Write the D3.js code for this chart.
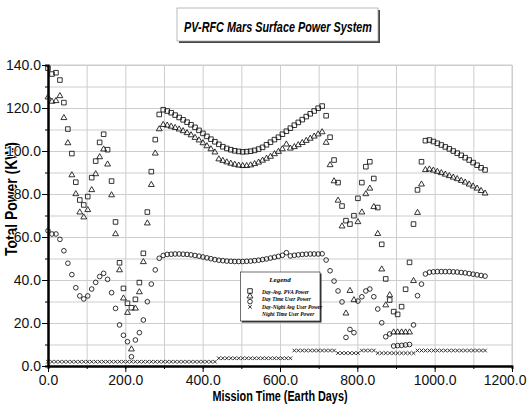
<!DOCTYPE html>
<html lang="en">
<head>
  <meta charset="utf-8">
  <style>
    body { margin: 0; padding: 0; background: #fff; }
    svg { display: block; }
    .grid line { stroke: #cdcdcd; stroke-width: 1; }
    .grid .domain { display: none; }
    .axis .domain { stroke: #000; stroke-width: 2; }
    .axis line { stroke: #000; }
    .axis text { font-family: "Liberation Sans Narrow", "Arial Narrow", "Liberation Sans", Arial, sans-serif; font-size: 14px; fill: #111; }
    .mk { fill: none; stroke: #111; stroke-width: 0.85; }
  </style>
</head>
<body>
<svg width="527" height="404"></svg>
<script src="https://cdn.jsdelivr.net/npm/d3@7/dist/d3.min.js"></script>
<script>
// mission days (one sample every 10 sols)
var days = [0, 10.3, 20.6, 30.8, 41.1, 51.4, 61.7, 71.9, 82.2, 92.5,
  102.8, 113, 123.3, 133.6, 143.9, 154.1, 164.4, 174.7, 185, 195.2,
  205.5, 215.8, 226.1, 236.3, 246.6, 256.9, 267.2, 277.4, 287.7, 298,
  308.3, 318.5, 328.8, 339.1, 349.4, 359.6, 369.9, 380.2, 390.5, 400.7,
  411, 421.3, 431.6, 441.8, 452.1, 462.4, 472.7, 482.9, 493.2, 503.5,
  513.8, 524, 534.3, 544.6, 554.9, 565.1, 575.4, 585.7, 596, 606.2,
  616.5, 626.8, 637.1, 647.3, 657.6, 667.9, 678.2, 688.4, 698.7, 709,
  719.3, 729.5, 739.8, 750.1, 760.4, 770.6, 780.9, 791.2, 801.5, 811.7,
  822, 832.3, 842.6, 852.8, 863.1, 873.4, 883.7, 893.9, 904.2, 914.5,
  924.8, 935, 945.3, 955.6, 965.9, 976.1, 986.4, 996.7, 1007, 1017.2,
  1027.5, 1037.8, 1048.1, 1058.3, 1068.6, 1078.9, 1089.2, 1099.4, 1109.7, 1120,
  1130.3];

var pvaPower = [138.5, 135.8, 136.4, 133, 122.5, 110.2, 98.8, 85.5, 77.2, 74.9,
  78.8, 87.6, 95.3, 104, 107.8, 100.6, 86, 67, 48, 36.1,
  29.2, 27.1, 31, 38.8, 52.4, 71.6, 90.4, 105.3, 117, 119.2,
  118.6, 117.8, 116.7, 115.6, 114.5, 113.4, 112.2, 111, 109.6, 108.2,
  106.8, 105.5, 104.3, 103.1, 102, 101.2, 100.6, 100.1, 99.8, 99.6,
  99.7, 99.9, 100.3, 100.9, 101.7, 102.9, 104.1, 105.3, 106.4, 107.8,
  109.2, 110.6, 112, 113.3, 114.6, 116, 117.3, 118.6, 119.9, 120.9,
  116.4, 106.4, 95.8, 85.3, 74.4, 67.6, 66, 69.9, 78, 85.3,
  92.7, 95, 87.2, 73.7, 56.6, 40.5, 30.7, 25.3, 24, 27.6,
  35.7, 48.2, 66, 81.9, 95, 104.8, 105.1, 104.4, 103.6, 102.8,
  101.9, 101, 100, 99, 98, 96.9, 95.8, 94.6, 93.4, 92.2,
  91.2];

var dayUserPower = [125, 123, 123.3, 125.6, 115.4, 103.7, 88.8, 80, 71.5, 69.2,
  72.6, 81.9, 89.3, 97.2, 100.8, 93.8, 79.5, 61.4, 44.6, 31.5,
  24.8, 7.8, 26.8, 34.4, 48.4, 66.4, 84.3, 98.9, 110.2, 112.2,
  111.9, 111.4, 110.8, 110.1, 109.3, 108.4, 107.4, 106.2, 105, 103.7,
  102.3, 100.9, 99.4, 96.2, 95.5, 94.8, 94.2, 93.7, 93.3, 93.1,
  93.1, 93.4, 94, 94.7, 95.6, 96.5, 97.4, 98.6, 99.7, 100.9,
  103.1, 101.2, 101.9, 102.8, 103.8, 104.8, 105.8, 106.8, 107.8, 108.8,
  103.9, 93.5, 86, 77, 65, 24.5, 35, 30.7, 67, 71.5,
  80, 82.6, 74, 61.5, 45, 28.3, 33, 15.7, 15.7, 15.7,
  15.7, 15.7, 39.6, 71.3, 84.5, 91.2, 91.5, 91, 90.4, 89.8,
  89.1, 88.4, 87.7, 87, 86.2, 85.4, 84.5, 83.6, 82.6, 81.5,
  80.3];

var avgUserPower = [62.9, 61.4, 61.4, 58.9, 53.6, 47.8, 42.5, 36.4, 32.6, 31.2,
  32.6, 35.8, 38.9, 41.6, 43.1, 40.3, 34.1, 26.8, 19.1, 14.3,
  11.3, 4.3, 12.1, 15.5, 21.4, 29.9, 38.1, 44.7, 50.1, 51.4,
  51.9, 52, 52.1, 52.1, 52, 51.9, 51.7, 51.4, 51.1, 50.7,
  50.3, 49.9, 49.5, 49.2, 49, 48.8, 48.7, 48.6, 48.6, 48.6,
  48.7, 48.8, 49, 49.2, 49.5, 49.8, 50.2, 50.6, 51, 51.5,
  52.7, 51.2, 51.5, 51.7, 51.9, 52, 52.1, 52.1, 52.1, 52.2,
  49.3, 44.3, 39.5, 34.9, 29.8, 13.3, 17, 15.5, 30.2, 32.2,
  34.9, 35.8, 32.2, 26.5, 20.1, 13.6, 14.9, 9.3, 9.5, 9.6,
  9.8, 10, 19.1, 32.7, 38.1, 42.8, 43.6, 43.8, 43.9, 43.9,
  43.9, 43.9, 43.8, 43.7, 43.5, 43.3, 43, 42.7, 42.4, 42.1,
  41.8];

var nightUserPower = [2, 2, 2, 2, 2, 2, 2, 2, 2, 2,
  2, 2, 2, 2, 2, 2, 2, 2, 2, 2,
  2, 2, 2, 2, 2, 2, 2, 2, 2, 2,
  2, 2, 2, 2, 2, 2, 2, 2, 2, 2,
  2, 2, 2, 3.6, 3.6, 3.6, 3.6, 3.6, 3.6, 3.6,
  3.6, 3.6, 3.6, 3.6, 3.6, 3.6, 3.6, 3.6, 3.6, 3.6,
  3.6, 3.6, 7.2, 7.2, 7.2, 7.2, 7.2, 7.2, 7.2, 7.2,
  7.2, 7.2, 7.2, 6, 6, 6, 6, 6, 6, 7.2,
  7.2, 7.2, 7.2, 6, 6, 6, 6, 6, 6, 6,
  6, 6, 6, 7.2, 7.2, 7.2, 7.2, 7.2, 7.2, 7.2,
  7.2, 7.2, 7.2, 7.2, 7.2, 7.2, 7.2, 7.2, 7.2, 7.2,
  7.2];

var seriesNames = ["Day-Avg. PVA Power", "Day Time User Power", "Day-Night Avg User Power", "Night Time User Power"];
var xTicks = [0, 200, 400, 600, 800, 1000, 1200];
var yTicks = [0, 20, 40, 60, 80, 100, 120, 140];

var svg = d3.select("svg");

var x = d3.scaleLinear().domain([0, 1200]).range([48, 512]);
var y = d3.scaleLinear().domain([0, 140]).range([366, 65]);

// title box
svg.append("rect").attr("x", 179).attr("y", 10).attr("width", 201).attr("height", 33).attr("fill", "#444");
svg.append("rect").attr("x", 177).attr("y", 8).attr("width", 201).attr("height", 33)
  .attr("fill", "#fff").attr("stroke", "#aaa").attr("stroke-width", 0.8);
svg.append("text")
  .attr("x", 278).attr("y", 32)
  .attr("text-anchor", "middle")
  .attr("textLength", 188).attr("lengthAdjust", "spacingAndGlyphs")
  .style("font-family", "'Liberation Sans Narrow', 'Liberation Sans', Arial, sans-serif")
  .style("font-size", "15px").style("font-weight", "bold").style("font-style", "italic")
  .text("PV-RFC Mars Surface Power System");

// y title goes under the tick labels
svg.append("text")
  .attr("transform", "translate(17,199) rotate(-90)")
  .attr("text-anchor", "middle")
  .attr("textLength", 114).attr("lengthAdjust", "spacingAndGlyphs")
  .style("font-family", "'Liberation Sans Narrow', 'Liberation Sans', Arial, sans-serif")
  .style("font-size", "17px").style("font-weight", "bold")
  .text("Total Power (KW)");

// grid
svg.append("g").attr("class", "grid")
  .attr("transform", "translate(0,366)")
  .call(d3.axisBottom(x).ticks(12).tickSize(-301).tickFormat(""));
svg.append("g").attr("class", "grid")
  .attr("transform", "translate(48,0)")
  .call(d3.axisLeft(y).ticks(14).tickSize(-464).tickFormat(""));
svg.append("line").attr("x1", 48).attr("x2", 512).attr("y1", 65).attr("y2", 65).attr("stroke", "#cdcdcd");
svg.append("line").attr("x1", 512).attr("x2", 512).attr("y1", 65).attr("y2", 366).attr("stroke", "#cdcdcd");

// minor ticks
svg.append("g").attr("class", "axis")
  .attr("transform", "translate(48,0)")
  .call(d3.axisLeft(y).ticks(14).tickSize(3).tickFormat(""));
svg.append("g").attr("class", "axis")
  .attr("transform", "translate(0,366)")
  .call(d3.axisBottom(x).ticks(12).tickSize(3).tickFormat(""));

// axes
var yAxis = svg.append("g").attr("class", "axis")
  .attr("transform", "translate(48,0)")
  .call(d3.axisLeft(y).tickValues(yTicks).tickSize(6).tickSizeOuter(0).tickPadding(1).tickFormat(d3.format(".1f")));
yAxis.selectAll("text").style("paint-order", "stroke").style("stroke", "#fff").style("stroke-width", 2);
var xAxis = svg.append("g").attr("class", "axis")
  .attr("transform", "translate(0,366)")
  .call(d3.axisBottom(x).tickValues(xTicks).tickSize(6).tickSizeOuter(0).tickPadding(3).tickFormat(d3.format(".1f")));
// last label sits at the right edge of the picture
xAxis.selectAll(".tick text")
  .filter(function(d) { return d === 1200; })
  .attr("text-anchor", "end")
  .attr("x", 14);

svg.append("text")
  .attr("x", 280).attr("y", 401)
  .attr("text-anchor", "middle")
  .attr("textLength", 135).attr("lengthAdjust", "spacingAndGlyphs")
  .style("font-family", "'Liberation Sans Narrow', 'Liberation Sans', Arial, sans-serif")
  .style("font-size", "14px").style("font-weight", "bold")
  .text("Mission Time (Earth Days)");

// markers
var symbols = [
  d3.symbol().type(d3.symbolSquare).size(21),
  d3.symbol().type(d3.symbolTriangle).size(15),
  d3.symbol().type(d3.symbolCircle).size(17),
  d3.symbol().type(d3.symbolX).size(10)
];
var series = [pvaPower, dayUserPower, avgUserPower, nightUserPower];

series.forEach(function(vals, s) {
  svg.append("g").selectAll("path")
    .data(vals)
    .enter().append("path")
    .attr("class", "mk")
    .attr("transform", function(d, i) {
      return "translate(" + x(days[i]) + "," + y(d) + ")";
    })
    .attr("d", symbols[s]);
});

// legend
svg.append("rect").attr("x", 242).attr("y", 273.5).attr("width", 79.5).attr("height", 49).attr("fill", "#333");
svg.append("rect").attr("x", 240.5).attr("y", 272).attr("width", 79.5).attr("height", 49)
  .attr("fill", "#fff").attr("stroke", "#333").attr("stroke-width", 0.7);
svg.append("text")
  .attr("x", 280).attr("y", 282)
  .attr("text-anchor", "middle")
  .style("font-family", "'Liberation Serif', 'Times New Roman', serif")
  .style("font-size", "7px").style("font-weight", "bold").style("font-style", "italic")
  .text("Legend");

var legend = svg.append("g").selectAll("g")
  .data(seriesNames)
  .enter().append("g");

legend.append("path")
  .attr("class", "mk")
  .attr("transform", function(d, i) { return "translate(250," + (291 + i * 5.3) + ")"; })
  .attr("d", function(d, i) { return symbols[i](); });

legend.append("text")
  .attr("x", 262)
  .attr("y", function(d, i) { return 293.5 + i * 7.5; })
  .style("font-family", "'Liberation Serif', 'Times New Roman', serif")
  .style("font-size", "5.4px").style("font-weight", "bold").style("font-style", "italic")
  .text(function(d) { return d; });
</script>
</body>
</html>
